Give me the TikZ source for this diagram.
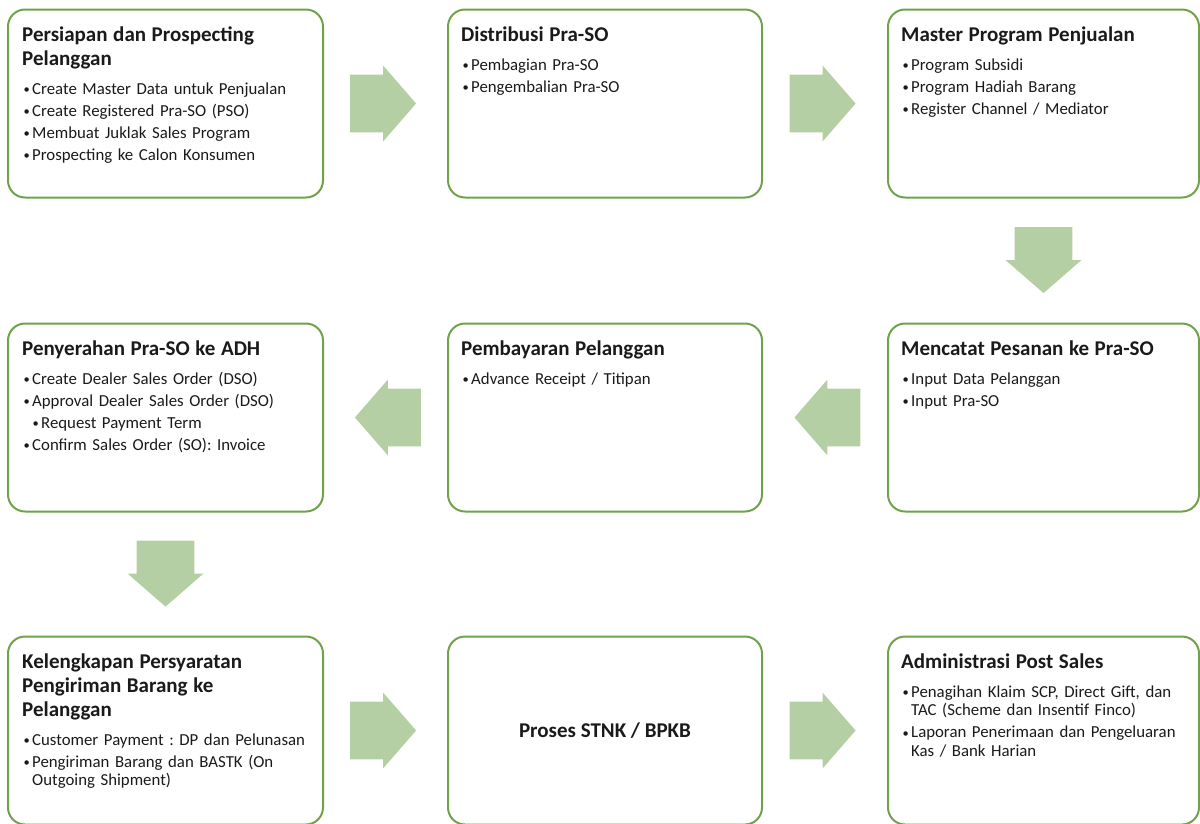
\documentclass[tikz,border=0pt]{standalone}
\usepackage{fontspec}
\setmainfont{Carlito}
\usetikzlibrary{positioning,shapes.arrows}
\frenchspacing

\definecolor{boxgreen}{HTML}{6FA24A}
\definecolor{flowgreen}{HTML}{B4CFA4}
\definecolor{inkgray}{HTML}{1A1A1A}

% title and bullet lines inside the boxes
\newcommand{\dotmark}{\raisebox{0.5pt}{\fontsize{12.5}{12.5}\selectfont\textbullet}}
\newcommand{\boxtitle}[1]{{\fontsize{21}{24}\selectfont\bfseries\rule{0pt}{16pt}#1\par}\vspace{6.5pt}}
\newcommand{\bul}[1]{\par\vspace{3.5pt}\hangindent=10pt\hangafter=1\noindent\makebox[10pt][l]{\hspace{1.5pt}\dotmark}#1\par}
\newcommand{\subbul}[1]{\par\vspace{3.5pt}\hangindent=19pt\hangafter=1\noindent\makebox[19pt][l]{\hspace{10.5pt}\dotmark}#1\par}

\tikzset{
  procbox/.style={draw=boxgreen, line width=2pt, rounded corners=17pt,
    minimum height=188pt, inner sep=0pt, outer sep=0pt},
  boxtext/.style={anchor=north west, inner sep=0pt, text width=300pt, align=left,
    text=inkgray, font=\fontsize{16.8}{18.5}\selectfont},
  flow/.style={single arrow, fill=flowgreen, draw=none, minimum height=66pt,
    minimum width=76pt, single arrow tip angle=98},
  flowR/.style={flow, inner xsep=0pt, inner ysep=22.5pt, xshift=-15pt},
  flowL/.style={flow, inner xsep=0pt, inner ysep=22.5pt, xshift=15pt,
    shape border rotate=180},
  flowD/.style={flow, inner xsep=22.5pt, inner ysep=0pt, yshift=13pt,
    shape border rotate=270}
}

\begin{document}
\begin{tikzpicture}[x=1pt,y=-1pt]
\useasboundingbox (0,0) rectangle (1200,823);

% boxes
\node[procbox, minimum width=315pt] (b1) at (165.5,103.5) {};
\node[procbox, minimum width=314pt, right=125pt of b1] (b2) {};
\node[procbox, minimum width=311pt, right=126pt of b2] (b3) {};
\node[procbox, minimum width=311pt, below=126pt of b3] (b6) {};
\node[procbox, minimum width=314pt, left=126pt of b6] (b5) {};
\node[procbox, minimum width=315pt, left=125pt of b5] (b4) {};
\node[procbox, minimum width=315pt, below=125pt of b4] (b7) {};
\node[procbox, minimum width=314pt, right=125pt of b7, text=inkgray,
  font=\fontsize{21}{24}\selectfont\bfseries] (b8) {Proses STNK / BPKB};
\node[procbox, minimum width=311pt, right=126pt of b8] (b9) {};

% texts
\node[boxtext] (t1) at ([xshift=14pt,yshift=-16pt]b1.north west) {%
  \boxtitle{Persiapan dan Prospecting\\Pelanggan}
  \bul{Create Master Data untuk Penjualan}
  \bul{Create Registered Pra-SO (PSO)}
  \bul{Membuat Juklak Sales Program}
  \bul{Prospecting ke Calon Konsumen}};
\node[boxtext] (t2) at ([xshift=13pt,yshift=-16pt]b2.north west) {%
  \boxtitle{Distribusi Pra-SO}
  \bul{Pembagian Pra-SO}
  \bul{Pengembalian Pra-SO}};
\node[boxtext] (t3) at ([xshift=13pt,yshift=-16pt]b3.north west) {%
  \boxtitle{Master Program Penjualan}
  \bul{Program Subsidi}
  \bul{Program Hadiah Barang}
  \bul{Register Channel / Mediator}};
\node[boxtext] (t4) at ([xshift=14pt,yshift=-16pt]b4.north west) {%
  \boxtitle{Penyerahan Pra-SO ke ADH}
  \bul{Create Dealer Sales Order (DSO)}
  \bul{Approval Dealer Sales Order (DSO)}
  \subbul{Request Payment Term}
  \bul{Confirm Sales Order (SO): Invoice}};
\node[boxtext] (t5) at ([xshift=13pt,yshift=-16pt]b5.north west) {%
  \boxtitle{Pembayaran Pelanggan}
  \bul{Advance Receipt / Titipan}};
\node[boxtext] (t6) at ([xshift=13pt,yshift=-16pt]b6.north west) {%
  \boxtitle{Mencatat Pesanan ke Pra-SO}
  \bul{Input Data Pelanggan}
  \bul{Input Pra-SO}};
\node[boxtext] (t7) at ([xshift=14pt,yshift=-16pt]b7.north west) {%
  \boxtitle{Kelengkapan Persyaratan\\Pengiriman Barang ke\\Pelanggan}
  \bul{Customer Payment : DP dan Pelunasan}
  \bul{Pengiriman Barang dan BASTK (On\newline Outgoing Shipment)}};
\node[boxtext] (t9) at ([xshift=13pt,yshift=-16pt]b9.north west) {%
  \boxtitle{Administrasi Post Sales}
  \bul{Penagihan Klaim SCP, Direct Gift, dan\newline TAC (Scheme dan Insentif Finco)}
  \bul{Laporan Penerimaan dan Pengeluaran\newline Kas / Bank Harian}};

% block arrows between the boxes
\path (b1) -- node[flowR] (a12) {} (b2);
\path (b2) -- node[flowR] (a23) {} (b3);
\path (b3) -- node[flowD] (a36) {} (b6);
\path (b6) -- node[flowL] (a65) {} (b5);
\path (b5) -- node[flowL] (a54) {} (b4);
\path (b4) -- node[flowD] (a47) {} (b7);
\path (b7) -- node[flowR] (a78) {} (b8);
\path (b8) -- node[flowR] (a89) {} (b9);
\end{tikzpicture}
\end{document}
